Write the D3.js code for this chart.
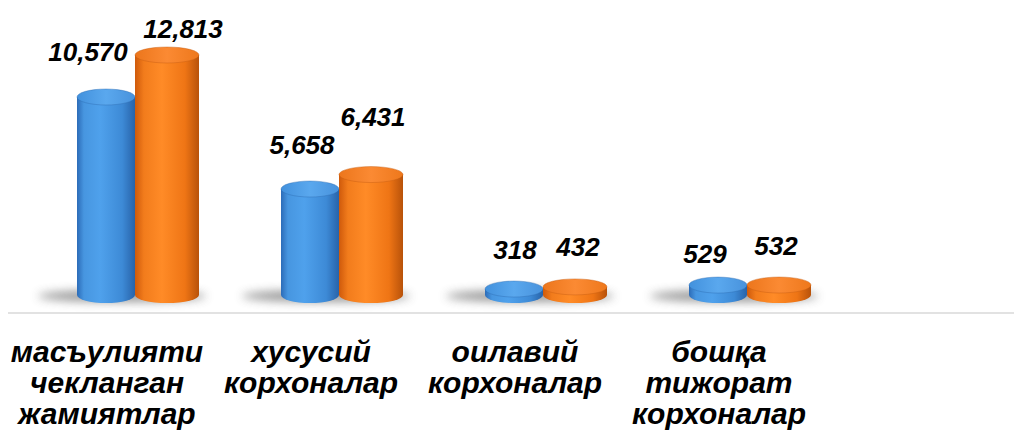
<!DOCTYPE html>
<meta charset="utf-8">
<style>
body { margin: 0; background: #fff; }
.vlabel, .clabel {
  font-family: "Liberation Sans", Arial, sans-serif;
  font-weight: bold;
  font-style: italic;
  fill: #000;
}
.vlabel { font-size: 26px; }
.clabel { font-size: 30px; }
</style>
<body>
<svg id="chart" width="1014" height="432"></svg>
<script src="https://d3js.org/d3.v7.min.js"></script>
<script>

var categories = [
  ["масъулияти", "чекланган", "жамиятлар"],
  ["хусусий", "корхоналар"],
  ["оилавий", "корхоналар"],
  ["бошқа", "тижорат", "корхоналар"]
];
var seriesA = [10570, 5658, 318, 529];   // blue
var seriesB = [12813, 6431, 432, 532];   // orange
var valueFormat = d3.format(",");

// hand nudges for the value labels (the original ones were dragged around)
var nudgeA = [[-18, -2], [-8, -1], [1, 4], [-13, 12]];
var nudgeB = [[16, 17], [2, -15], [3, 3], [-3, 4]];

var width = 1014, height = 432;
var base = 295;

var svg = d3.select("#chart");
var defs = svg.append("defs");

var x = d3.scaleBand()
    .domain(d3.range(categories.length))
    .range([34, 34 + 204 * categories.length])
    .padding(0);

var y = d3.scaleLinear()
    .domain([0, 12813])
    .range([base, 55]);

function grad(id, stops) {
  var g = defs.append("linearGradient").attr("id", id)
      .attr("x1", "0%").attr("x2", "100%").attr("y1", "0%").attr("y2", "0%");
  stops.forEach(function(s) {
    g.append("stop").attr("offset", s[0]).attr("stop-color", s[1]);
  });
}
grad("blueBody", [["0%", "#2c6cb8"], ["12%", "#4796e0"], ["40%", "#4fa1ec"], ["78%", "#3d8ad6"], ["100%", "#2863a9"]]);
grad("orangeBody", [["0%", "#cf5a0b"], ["14%", "#f27c1c"], ["42%", "#ff8b27"], ["78%", "#ef7515"], ["100%", "#b8520a"]]);
grad("blueTop", [["0%", "#4291dd"], ["50%", "#5aa8ee"], ["100%", "#4892dc"]]);
grad("orangeTop", [["0%", "#ec761c"], ["50%", "#fb8a33"], ["100%", "#ee781c"]]);

var blur = defs.append("filter").attr("id", "blur")
    .attr("x", "-50%").attr("y", "-200%").attr("width", "200%").attr("height", "500%");
blur.append("feGaussianBlur").attr("stdDeviation", 5);

// axis line
svg.append("line")
    .attr("x1", 8).attr("x2", width)
    .attr("y1", 313).attr("y2", 313)
    .attr("stroke", "#e2e2e2")
    .attr("stroke-width", 2);

// shadows
svg.append("g").selectAll("ellipse")
  .data(categories)
  .enter().append("ellipse")
    .attr("cx", function(d, i) { return x(i) + x.bandwidth() / 2 - 14; })
    .attr("cy", base + 1)
    .attr("rx", 84)
    .attr("ry", 6)
    .attr("fill", "#555")
    .attr("opacity", 0.6)
    .attr("filter", "url(#blur)");

var series = [
  { values: seriesA, dx: -30, rx: 29, body: "blueBody", top: "blueTop", edge: "#2b68ae", nudge: nudgeA },
  { values: seriesB, dx: 31, rx: 32, body: "orangeBody", top: "orangeTop", edge: "#c25a10", nudge: nudgeB }
];
var ry = 8;

series.forEach(function(s) {
  var g = svg.append("g");
  var bars = g.selectAll("g")
    .data(s.values)
    .enter().append("g");

  bars.append("path")
      .attr("fill", "url(#" + s.body + ")")
      .attr("d", function(d, i) {
        var cx = x(i) + x.bandwidth() / 2 + s.dx;
        var top = y(d);
        return "M" + (cx - s.rx) + "," + top +
          "L" + (cx - s.rx) + "," + base +
          "A" + s.rx + "," + ry + " 0 0 0 " + (cx + s.rx) + "," + base +
          "L" + (cx + s.rx) + "," + top + "Z";
      });

  bars.append("ellipse")
      .attr("cx", function(d, i) { return x(i) + x.bandwidth() / 2 + s.dx; })
      .attr("cy", function(d) { return y(d); })
      .attr("rx", s.rx)
      .attr("ry", ry)
      .attr("fill", "url(#" + s.top + ")")
      .attr("stroke", s.edge)
      .attr("stroke-width", 0.8)
      .attr("stroke-opacity", 0.5);

  g.selectAll("text")
    .data(s.values)
    .enter().append("text")
      .attr("class", "vlabel")
      .attr("text-anchor", "middle")
      .attr("x", function(d, i) { return x(i) + x.bandwidth() / 2 + s.dx + s.nudge[i][0]; })
      .attr("y", function(d, i) { return y(d) - 34 + s.nudge[i][1]; })
      .text(function(d) { return valueFormat(d); });
});

// category labels
var cl = svg.append("g").selectAll("text")
  .data(categories)
  .enter().append("text")
    .attr("class", "clabel")
    .attr("text-anchor", "middle")
    .attr("x", function(d, i) { return x(i) + x.bandwidth() / 2 - 29; })
    .attr("y", 362);

cl.selectAll("tspan")
  .data(function(d) { return d; })
  .enter().append("tspan")
    .attr("x", function() { return d3.select(this.parentNode).attr("x"); })
    .attr("dy", function(d, j) { return j === 0 ? 0 : 31; })
    .text(function(d) { return d; });

</script>
</body>
